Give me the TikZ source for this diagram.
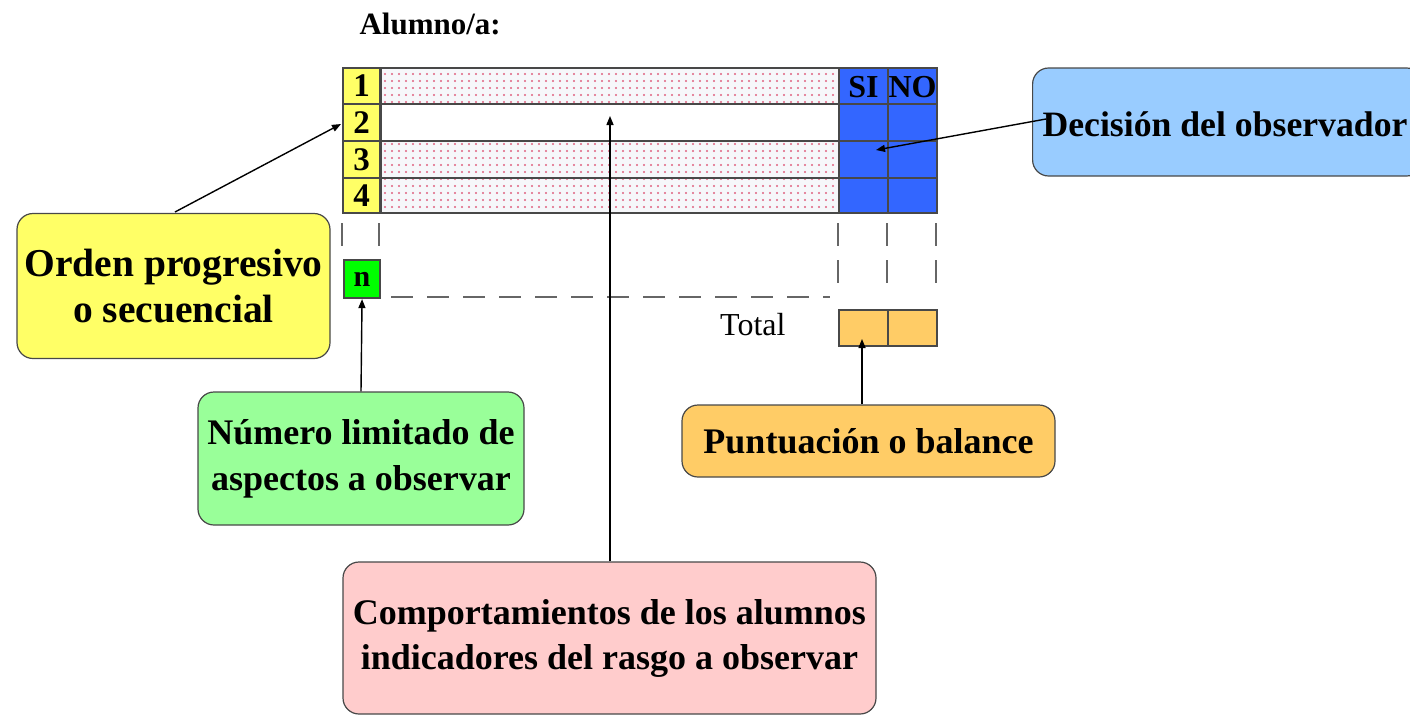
\documentclass[tikz,border=0pt]{standalone}
\usepackage{fontspec}
\setmainfont{Liberation Serif}
\usetikzlibrary{arrows.meta,patterns.meta}
\definecolor{cyel}{HTML}{FFFF66}
\definecolor{cblue}{HTML}{99CCFF}
\definecolor{ctab}{HTML}{3366FF}
\definecolor{cgrn}{HTML}{00FF00}
\definecolor{cgrnl}{HTML}{99FF99}
\definecolor{corg}{HTML}{FFCC66}
\definecolor{cpink}{HTML}{FFCCCC}
\definecolor{cdot}{HTML}{E0607E}
\definecolor{crowbg}{HTML}{F6F7FA}
\definecolor{cline}{HTML}{484848}
\tikzset{
  callout/.style={draw=cline, line width=1.2pt, rounded corners=16pt, align=center, inner sep=0pt, font=\bfseries},
  cell/.style={draw=cline, line width=2.1pt, inner sep=0pt, anchor=north west},
  numcell/.style={cell, fill=cyel, font=\bfseries\fontsize{33}{33}\selectfont},
  dotrow/.style={cell, preaction={fill=crowbg}, pattern={Dots[distance=7pt,radius=1.15pt]}, pattern color=cdot},
  plainrow/.style={cell, fill=white},
  bluecell/.style={cell, fill=ctab},
  orgcell/.style={cell, fill=corg},
  dsh/.style={draw=gray!80!black, line width=2.2pt},
  arr/.style={-{Triangle[length=9pt,width=7pt]}, line width=1.4pt, black}
}
\begin{document}
\begin{tikzpicture}[x=1pt,y=-1pt]
\useasboundingbox (0,0) rectangle (1410,718);

\node[font=\bfseries\fontsize{31}{31}\selectfont, anchor=west] (alumno) at (356,24) {Alumno/a:};

% table rows
\foreach \r/\y/\h/\st in {1/67/36/dotrow, 2/103/37/plainrow, 3/140/37/dotrow, 4/177/35/dotrow}{
  \node[\st, minimum width=458pt, minimum height=\h pt] (body\r) at (380,\y) {};
  \node[bluecell, minimum width=49pt, minimum height=\h pt] (si\r) at (838,\y) {};
  \node[bluecell, minimum width=49pt, minimum height=\h pt] (no\r) at (887,\y) {};
  \node[numcell, minimum width=37pt, minimum height=\h pt] (num\r) at (342,\y) {\r};
}
\node[font=\bfseries\fontsize{32}{32}\selectfont] (silbl) at ([yshift=-1pt]si1.center) {SI};
\node[font=\bfseries\fontsize{32}{32}\selectfont] (nolbl) at ([yshift=-1pt]no1.center) {NO};

% dashed continuation
\draw[dsh] (342,223) -- (342,246);
\draw[dsh] (379,223) -- (379,246);
\foreach \x in {838,887,936}{
  \draw[dsh] (\x,223) -- (\x,246);
  \draw[dsh] (\x,260) -- (\x,283);
}
\draw[dsh, dash pattern=on 22pt off 14pt] (391,297) -- (830,297);

\node[cell, fill=cgrn, minimum width=36pt, minimum height=38pt, font=\bfseries\fontsize{30}{30}\selectfont] (nbox) at (343,259) {n};

\node[font=\fontsize{32}{32}\selectfont, anchor=east] (total) at (789,325) {Total};
\node[orgcell, minimum width=49pt, minimum height=36pt] (tsi) at (838,309) {};
\node[orgcell, minimum width=49pt, minimum height=36pt] (tno) at (887,309) {};

% callouts
\node[callout, fill=cyel, minimum width=313pt, minimum height=145pt, font=\bfseries\fontsize{39.5}{46}\selectfont] (orden) at (173.5,286) {Orden progresivo\\o secuencial};
\node[callout, fill=cblue, minimum width=390pt, minimum height=108pt, anchor=west] (decision) at (1032,122) {};
\node[font=\bfseries\fontsize{35.7}{40}\selectfont, anchor=west] (dectext) at (1039,124) {Decisión del observador};
\node[callout, fill=cgrnl, minimum width=326pt, minimum height=133pt, font=\bfseries\fontsize{36}{46}\selectfont] (numero) at (361,458.5) {Número limitado de\\aspectos a observar};
\node[callout, fill=corg, minimum width=373pt, minimum height=72pt, font=\bfseries\fontsize{36}{40}\selectfont] (punt) at (868.5,441) {Puntuación o balance};
\node[callout, fill=cpink, minimum width=533pt, minimum height=152pt, font=\bfseries\fontsize{36}{45}\selectfont] (comp) at (609.5,638) {Comportamientos de los alumnos\\indicadores del rasgo a observar};

% arrows
\coordinate (ordtop) at (175,212);
\coordinate (num2tip) at (341,124);
\draw[arr] (ordtop) -- (num2tip);
\draw[arr] (numero.north) -- (nbox.south);
\coordinate (comptgt) at (610,116);
\draw[arr] (comp.north -| comptgt) -- (comptgt);
\coordinate (tsitip) at (862,339);
\draw[arr] (punt.north -| tsitip) -- (tsitip);
\coordinate (decstart) at (1046,119);
\coordinate (dectip) at (876,150);
\draw[arr] (decstart) -- (dectip);
\end{tikzpicture}
\end{document}
